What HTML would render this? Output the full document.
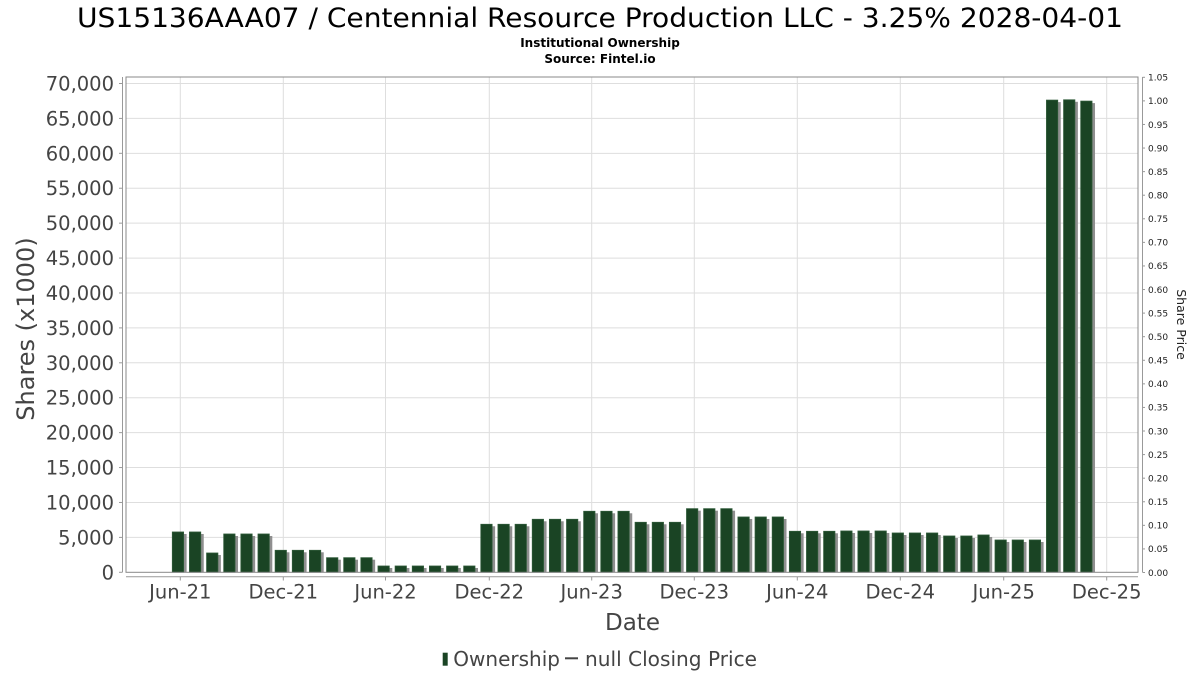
<!DOCTYPE html>
<html><head><meta charset="utf-8"><style>
html,body{margin:0;padding:0;background:#fff;}
svg{display:block;font-family:"DejaVu Sans","Liberation Sans",sans-serif;}
</style></head><body>
<svg id="c" width="1200" height="675" viewBox="0 0 1200 675" xmlns="http://www.w3.org/2000/svg">
<rect width="1200" height="675" fill="#fff"/>
<text x="600" y="27" font-size="27" text-anchor="middle" fill="#000" textLength="1046" lengthAdjust="spacingAndGlyphs">US15136AAA07 / Centennial Resource Production LLC - 3.25% 2028-04-01</text>
<text x="600" y="47" font-size="12" font-weight="bold" text-anchor="middle" fill="#000">Institutional Ownership</text>
<text x="600" y="63" font-size="12" font-weight="bold" text-anchor="middle" fill="#000">Source: Fintel.io</text>
<g id="grid" stroke="#dedede" stroke-width="1"></g>
<g id="bars"></g>
<g id="axes"></g>
<text transform="translate(34,329) rotate(-90)" font-size="24" text-anchor="middle" fill="#444">Shares (x1000)</text>
<text transform="translate(1177,324.5) rotate(90)" font-size="12.5" text-anchor="middle" fill="#222">Share Price</text>
<text x="632.5" y="630" font-size="23" text-anchor="middle" fill="#444">Date</text>
<rect x="442.7" y="652.7" width="5" height="13" fill="#1a4424"/>
<text x="453.3" y="666" font-size="20" fill="#444" textLength="106.7" lengthAdjust="spacingAndGlyphs">Ownership</text>
<line x1="565" y1="658.3" x2="578" y2="658.3" stroke="#444" stroke-width="2"/>
<text x="585" y="666" font-size="20" fill="#444" textLength="172" lengthAdjust="spacingAndGlyphs">null Closing Price</text>
</svg>
<script>
(function(){
var NS="http://www.w3.org/2000/svg";
function el(p,t,a,txt){var e=document.createElementNS(NS,t);for(var k in a)e.setAttribute(k,a[k]);if(txt!=null)e.textContent=txt;p.appendChild(e);return e;}
var grid=document.getElementById('grid'),bars=document.getElementById('bars'),axes=document.getElementById('axes');
var L=126,R=1138,T=77,B=572.3;
function yv(v){return B-v*0.006983;}
for(var v=0;v<=70000;v+=5000){var y=yv(v);if(v>0)el(grid,'line',{x1:L,y1:y,x2:R,y2:y});}
var mt=[[180.3,'Jun-21'],[283.3,'Dec-21'],[385.5,'Jun-22'],[489.3,'Dec-22'],[591.7,'Jun-23'],[694.3,'Dec-23'],[797.3,'Jun-24'],[900.3,'Dec-24'],[1003.7,'Jun-25'],[1106.7,'Dec-25']];
mt.forEach(function(m){el(grid,'line',{x1:m[0],y1:T,x2:m[0],y2:B});});
var vals=[5774,5774,2765,5487,5487,5487,3152,3152,3152,2092,2092,2092,903,903,903,903,903,903,6877,6877,6877,7593,7593,7593,8739,8739,8739,7163,7163,7163,9112,9112,9112,7923,7923,7923,5874,5874,5874,5917,5917,5917,5630,5630,5630,5200,5200,5344,4627,4627,4627,67622,67665,67478];
for(var i=0;i<vals.length;i++){
 var x=172.3+17.14*i,w=11.3,y=yv(vals[i]),h=B-y;
 el(bars,'rect',{x:x+3,y:y+2,width:w,height:h-2,fill:'#8f8f8f'});
 el(bars,'rect',{x:x,y:y,width:w,height:h,fill:'#1a4424',stroke:'#2e5a38','stroke-width':0.8});
}
el(axes,'rect',{x:L,y:T,width:R-L,height:B-T,fill:'none',stroke:'#888','stroke-width':1});
el(axes,'line',{x1:122.5,y1:T,x2:122.5,y2:B,stroke:'#999','stroke-width':1});
for(var v=0;v<=70000;v+=5000){var y=yv(v);
 el(axes,'line',{x1:119,y1:y,x2:122.5,y2:y,stroke:'#999'});
 el(axes,'text',{x:114,y:y+7,'font-size':19.5,'text-anchor':'end',fill:'#444'},v.toLocaleString('en-US'));}
el(axes,'line',{x1:L,y1:576.7,x2:R,y2:576.7,stroke:'#999','stroke-width':1});
mt.forEach(function(m){el(axes,'line',{x1:m[0],y1:576.7,x2:m[0],y2:580.5,stroke:'#999'});
 el(axes,'text',{x:m[0],y:598.5,'font-size':19.5,'text-anchor':'middle',fill:'#444'},m[1]);});
el(axes,'line',{x1:1142.5,y1:T,x2:1142.5,y2:B,stroke:'#999','stroke-width':1});
for(var k=0;k<=21;k++){var p=k*0.05,y=572.5-(p/1.05)*(572.5-77.3);
 el(axes,'line',{x1:1142.5,y1:y,x2:1145,y2:y,stroke:'#999'});
 el(axes,'text',{x:1148,y:y+3.3,'font-size':9,fill:'#222'},p.toFixed(2));}
})();
</script>
</body></html>
